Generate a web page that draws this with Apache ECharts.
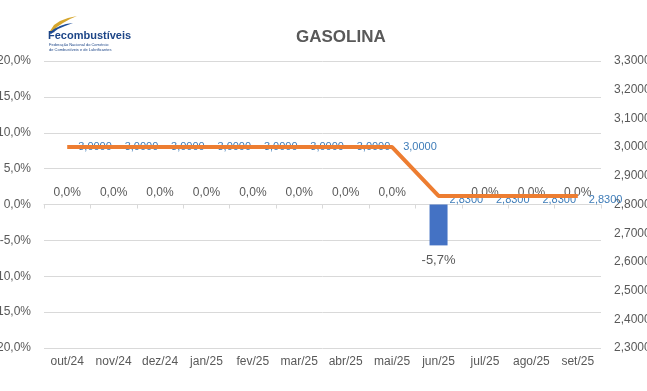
<!DOCTYPE html>
<html>
<head>
<meta charset="utf-8">
<script src="https://cdn.jsdelivr.net/npm/echarts@6/dist/echarts.min.js"></script>
<style>html,body{margin:0;padding:0;background:#fff;}#c{width:647px;height:391px;}</style>
</head>
<body>
<div id="c"></div>
<script>
var categories = ['out/24','nov/24','dez/24','jan/25','fev/25','mar/25','abr/25','mai/25','jun/25','jul/25','ago/25','set/25'];
var variationPct = [0,0,0,0,0,0,0,0,-5.7,0,0,0];
var pricesValues = [3.0,3.0,3.0,3.0,3.0,3.0,3.0,3.0,2.83,2.83,2.83,2.83];
var leftTicks = {min:-20, max:20, interval:5};
var rightTicks = {min:2.3, max:3.3, interval:0.1};
var titleText = 'GASOLINA';

var gray = '#595959';
var chart = echarts.init(document.getElementById('c'), null, {renderer:'canvas'});
var fontFam = '"Liberation Sans", Arial, sans-serif';

function pctFmt(v){ return v.toFixed(1).replace('.', ',') + '%'; }
function priceFmt(v){ return v.toFixed(4).replace('.', ','); }

var barData = variationPct.map(function(v){
  if (v < 0) return {value:v, label:{position:'bottom', distance:9, fontSize:13}};
  return v;
});
var lineLabelData = pricesValues.map(function(v, i){
  if (i >= 8) return {value:v, label:{offset:[0,4]}};
  return v;
});

chart.setOption({
  animation:false,
  textStyle:{fontFamily:fontFam},
  grid:{left:44, right:46, top:61, height:287, containLabel:false, outerBoundsMode:'none'},
  graphic:[
    {type:'text', left:296, top:29, style:{text:titleText, fill:gray, font:'bold 17px ' + fontFam}},
    {type:'polygon', shape:{points:[[50,31],[54,25],[60,21],[68,18],[77,16],[70,19],[63,23],[57,27],[54,31]]}, style:{fill:'#D6A62C'}},
    {type:'polygon', shape:{points:[[49,33],[54,29],[60,26],[66,24],[73,23],[65,26],[58,29],[51,34]]}, style:{fill:'#1F4E99'}},
    {type:'text', left:48, top:30, style:{text:'Fecombustíveis', fill:'#1C4587', font:'bold 11px ' + fontFam}},
    {type:'text', left:49, top:43, style:{text:'Federação Nacional do Comércio', fill:'#1C4587', font:'4px ' + fontFam}},
    {type:'text', left:49, top:48, style:{text:'de Combustíveis e de Lubrificantes', fill:'#1C4587', font:'4px ' + fontFam}}
  ],
  xAxis:[
    {type:'category', data:categories, position:'bottom', boundaryGap:true,
     axisLine:{show:false, onZero:false}, axisTick:{show:false},
     axisLabel:{color:gray, fontSize:12, margin:8, interval:0, hideOverlap:false}},
    {type:'category', data:categories, position:'bottom', boundaryGap:true,
     axisLine:{show:true, onZero:true, onZeroAxisIndex:0, lineStyle:{color:'#D9D9D9'}},
     axisTick:{show:true, length:4, interval:0, lineStyle:{color:'#D9D9D9'}},
     axisLabel:{show:false}}
  ],
  yAxis:[
    {type:'value', min:leftTicks.min, max:leftTicks.max, interval:leftTicks.interval, position:'left',
     axisLine:{show:false}, axisTick:{show:false},
     splitLine:{lineStyle:{color:'#D9D9D9', width:1}},
     axisLabel:{color:gray, fontSize:12, margin:13, formatter:function(v){return pctFmt(v);}}},
    {type:'value', min:rightTicks.min, max:rightTicks.max, interval:rightTicks.interval, position:'right',
     axisLine:{show:false}, axisTick:{show:false}, splitLine:{show:false},
     axisLabel:{color:gray, fontSize:12, margin:13, formatter:function(v){return priceFmt(v);}}}
  ],
  series:[
    {type:'bar', name:'Variação', xAxisIndex:0, yAxisIndex:0, data:barData, barWidth:18,
     itemStyle:{color:'#4472C4'}, z:2,
     label:{show:true, position:'top', distance:6, color:gray, fontSize:12,
            formatter:function(p){return pctFmt(p.value);}}},
    {type:'line', name:'Preço (labels)', xAxisIndex:0, yAxisIndex:1, data:lineLabelData, z:3,
     symbol:'circle', symbolSize:0, showSymbol:true, lineStyle:{opacity:0},
     label:{show:true, position:'right', distance:11, color:'#3E7CB8', fontSize:11,
            formatter:function(p){return priceFmt(p.value);}}},
    {type:'line', name:'Preço', xAxisIndex:0, yAxisIndex:1, data:pricesValues, z:5,
     symbol:'none', lineStyle:{color:'#ED7D31', width:4}}
  ]
});
</script>
</body>
</html>
